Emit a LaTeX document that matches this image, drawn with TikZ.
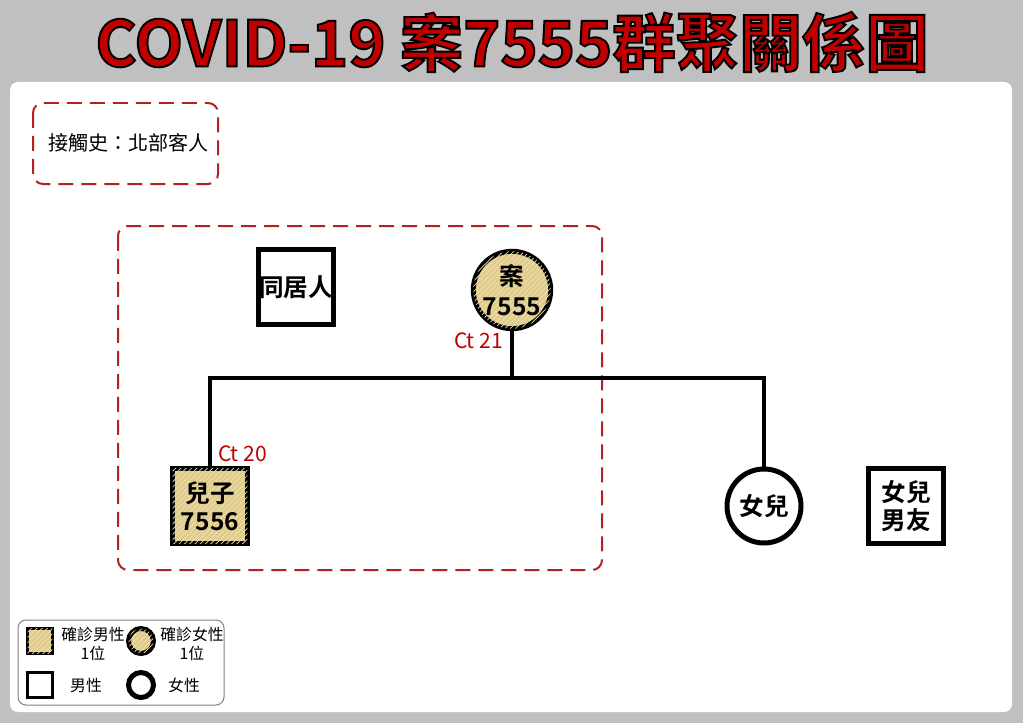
\documentclass[tikz,border=0pt]{standalone}
\usepackage{fontspec}
\setmainfont{Noto Sans CJK TC}
\newfontfamily\cjkbold{Noto Sans CJK TC Bold}
\usetikzlibrary{positioning, patterns}

\definecolor{panelgray}{RGB}{192,192,192}
\definecolor{casetan}{RGB}{226,204,140}
\definecolor{hatchtan}{RGB}{238,224,180}
\definecolor{titlered}{RGB}{192,0,0}
\definecolor{boxred}{RGB}{178,34,34}

% outlined title text
\newcommand{\outlinetext}[1]{\special{pdf:literal direct 2 Tr 1.1 w 0 0 0 RG}#1\special{pdf:literal direct 0 Tr}}

\begin{document}
\begin{tikzpicture}[
  x=0.02cm, y=-0.02cm,
  person/.style={draw, line width=0.1cm, align=center, inner sep=0pt,
    font=\cjkbold\fontsize{14}{16}\selectfont},
  male/.style={person, rectangle, minimum size=1.5cm},
  female/.style={person, circle, minimum size=1.48cm},
  infected/.style={fill=casetan, postaction={pattern=north east lines, pattern color=hatchtan}},
  tie/.style={line width=0.08cm},
  ctlabel/.style={text=titlered, font=\fontsize{12}{14}\selectfont, inner sep=1pt},
  dashbox/.style={draw=boxred, line width=0.04cm, dash pattern=on 0.3cm off 0.16cm, rounded corners=0.2cm},
  legsym/.style={draw, line width=0.06cm, inner sep=0pt},
  legtext/.style={align=center, font=\fontsize{9}{10.5}\selectfont}
]
  % background and panel
  \fill[panelgray] (0,0) rectangle (1023,723);
  \fill[white, rounded corners=0.16cm] (10,82) rectangle (1012,712);

  % title
  \node[text=titlered, font=\cjkbold\fontsize{36}{40}\selectfont] (title) at (512,42)
    {\outlinetext{COVID-19 案7555群聚關係圖}};

  % contact history
  \draw[dashbox] (33,103) rectangle (218,184);
  \node[anchor=west, font=\fontsize{11.4}{13}\selectfont] (contact) at (42,143) {接觸史：北部客人};

  % household
  \draw[dashbox] (118,226) rectangle (602,570);

  \node[male] (roommate) at (296,287) {同居人};
  \node[female, infected] (case) at (512,290) {案\\[1pt]7555};
  \node[male, infected] (son) at (210,506) {兒子\\[0pt]7556};
  \node[female] (daughter) at (764,506) {女兒};
  \node[male] (boyfriend) at (906,506) {女兒\\[0pt]男友};

  \coordinate (barL) at (210,378);
  \coordinate (barM) at (512,378);
  \coordinate (barR) at (764,378);

  \draw[tie] (case) -- (barM);
  \draw[tie] ([xshift=-0.04cm]barL) -- ([xshift=0.04cm]barR);
  \draw[tie] (barL) -- (son);
  \draw[tie] (barR) -- (daughter);

  \node[ctlabel, anchor=east] (ct21) at (505,341) {Ct 21};
  \node[ctlabel, anchor=west] (ct20) at (216,454) {Ct 20};

  % legend
  \draw[line width=0.02cm, draw=gray, rounded corners=0.16cm] (18,620) rectangle (224,705);
  \node[legsym, infected, minimum size=0.5cm] (lgm) at (40,641) {};
  \node[legtext] (lgmt) at (93,644) {確診男性\\1位};
  \node[legsym, infected, circle, minimum size=0.5cm, line width=0.1cm] (lgf) at (141,641) {};
  \node[legtext] (lgft) at (192,644) {確診女性\\1位};
  \node[legsym, minimum size=0.5cm] (lm) at (40,685) {};
  \node[legtext] (lmt) at (86,685) {男性};
  \node[legsym, circle, minimum size=0.5cm, line width=0.1cm] (lf) at (141,685) {};
  \node[legtext] (lft) at (184,685) {女性};
\end{tikzpicture}
\end{document}
